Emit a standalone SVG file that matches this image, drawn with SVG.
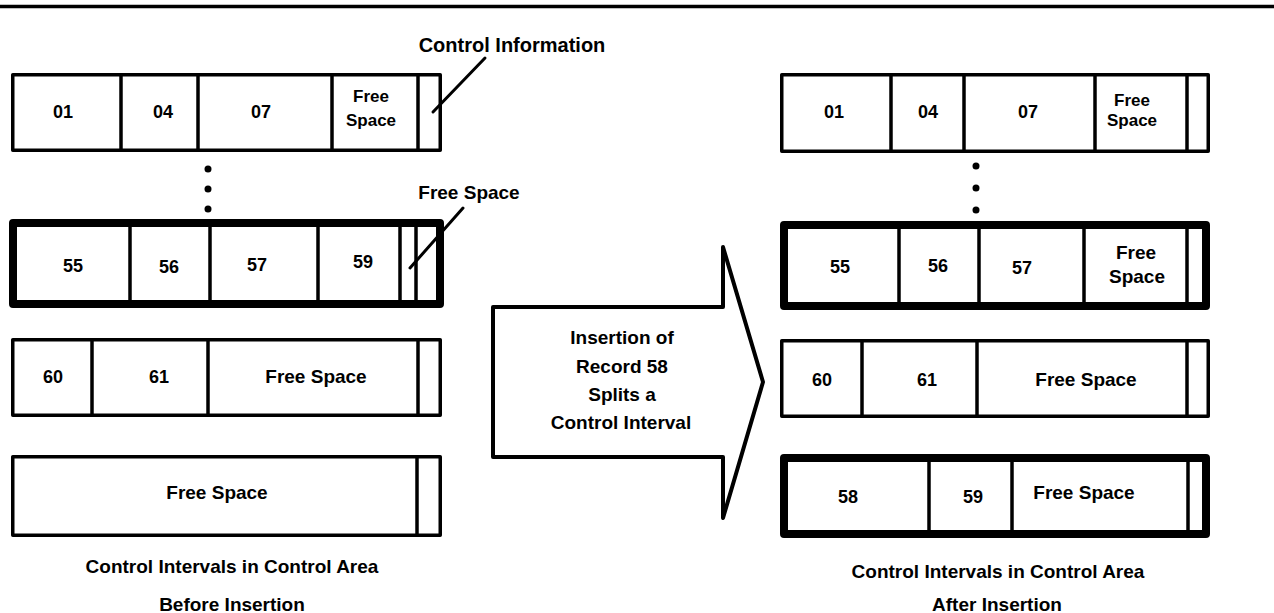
<svg xmlns="http://www.w3.org/2000/svg" width="1274" height="613" viewBox="0 0 1274 613">
<style>
  .box { fill: #fff; stroke: #000; stroke-width: 3.5; stroke-linejoin: round; }
  .thick { fill: #fff; stroke: #000; stroke-width: 8; stroke-linejoin: round; }
  .div { stroke: #000; stroke-width: 3.5; }
  .t { font-family: "Liberation Sans", Arial, Helvetica, sans-serif; font-weight: bold; font-size: 19px; fill: #000; text-anchor: middle; }
  .n { font-size: 18px; }
  .ptr { stroke: #000; stroke-width: 3; stroke-linecap: round; fill: none; }
  .dot { fill: #000; }
</style>
<rect x="0" y="0" width="1274" height="613" fill="#fff"/>
<line x1="0" y1="6.5" x2="1274" y2="6.5" stroke="#000" stroke-width="3.5"/>

<!-- Left: before insertion -->
<g id="before-ci1">
  <rect class="box" x="12.75" y="74.75" width="427.5" height="75.5"/>
  <line class="div" x1="121" y1="74.75" x2="121" y2="150.25"/>
  <line class="div" x1="198" y1="74.75" x2="198" y2="150.25"/>
  <line class="div" x1="332" y1="74.75" x2="332" y2="150.25"/>
  <line class="div" x1="418" y1="74.75" x2="418" y2="150.25"/>
  <text class="t n" x="63" y="118">01</text>
  <text class="t n" x="163" y="118">04</text>
  <text class="t n" x="261" y="118">07</text>
  <text class="t" x="371" y="102" style="font-size:17px">Free</text>
  <text class="t" x="371" y="126" style="font-size:17px">Space</text>
</g>
<g id="before-dots">
  <circle class="dot" cx="208" cy="169" r="3.5"/>
  <circle class="dot" cx="208" cy="189" r="3.5"/>
  <circle class="dot" cx="208" cy="209" r="3.5"/>
</g>
<g id="before-ci2">
  <rect class="thick" x="13" y="223" width="427" height="81"/>
  <line class="div" x1="130" y1="223" x2="130" y2="304"/>
  <line class="div" x1="210" y1="223" x2="210" y2="304"/>
  <line class="div" x1="318" y1="223" x2="318" y2="304"/>
  <line class="div" x1="400" y1="223" x2="400" y2="304"/>
  <line class="div" x1="416" y1="223" x2="416" y2="304"/>
  <text class="t n" x="73" y="272">55</text>
  <text class="t n" x="169" y="273">56</text>
  <text class="t n" x="257" y="271">57</text>
  <text class="t n" x="363" y="268">59</text>
</g>
<g id="before-ci3">
  <rect class="box" x="12.75" y="339.75" width="427.5" height="75.5"/>
  <line class="div" x1="92" y1="339.75" x2="92" y2="415.25"/>
  <line class="div" x1="208" y1="339.75" x2="208" y2="415.25"/>
  <line class="div" x1="418" y1="339.75" x2="418" y2="415.25"/>
  <text class="t n" x="53" y="383">60</text>
  <text class="t n" x="159" y="383">61</text>
  <text class="t" x="316" y="383">Free Space</text>
</g>
<g id="before-ci4">
  <rect class="box" x="12.75" y="456.75" width="427.5" height="78.5"/>
  <line class="div" x1="417" y1="456.75" x2="417" y2="535.25"/>
  <text class="t" x="217" y="499">Free Space</text>
</g>
<g id="label-control-info">
  <text class="t" x="512" y="52" style="font-size:20px">Control Information</text>
</g>
<g id="label-free-space">
  <text class="t" x="469" y="199">Free Space</text>
</g>
<g id="caption-before">
  <text class="t" x="232" y="573">Control Intervals in Control Area</text>
  <text class="t" x="232" y="611">Before Insertion</text>
</g>

<!-- Arrow -->
<g id="arrow">
  <polygon points="493,307 723,307 723,247 763,382 723,518 723,457 493,457" fill="#fff" stroke="#000" stroke-width="4" stroke-linejoin="round"/>
  <text class="t" x="622" y="344">Insertion of</text>
  <text class="t" x="622" y="373">Record 58</text>
  <text class="t" x="622" y="401">Splits a</text>
  <text class="t" x="621" y="429">Control Interval</text>
</g>

<!-- Right: after insertion -->
<g id="after-ci1">
  <rect class="box" x="781.75" y="74.75" width="426.5" height="76.5"/>
  <line class="div" x1="891" y1="74.75" x2="891" y2="151.25"/>
  <line class="div" x1="964" y1="74.75" x2="964" y2="151.25"/>
  <line class="div" x1="1095" y1="74.75" x2="1095" y2="151.25"/>
  <line class="div" x1="1187" y1="74.75" x2="1187" y2="151.25"/>
  <text class="t n" x="834" y="118">01</text>
  <text class="t n" x="928" y="118">04</text>
  <text class="t n" x="1028" y="118">07</text>
  <text class="t" x="1132" y="106" style="font-size:17px">Free</text>
  <text class="t" x="1132" y="126" style="font-size:17px">Space</text>
</g>
<g id="after-dots">
  <circle class="dot" cx="976" cy="166" r="3.5"/>
  <circle class="dot" cx="976" cy="188" r="3.5"/>
  <circle class="dot" cx="976" cy="210" r="3.5"/>
</g>
<g id="after-ci2">
  <rect class="thick" x="784" y="225" width="422" height="81"/>
  <line class="div" x1="899" y1="225" x2="899" y2="306"/>
  <line class="div" x1="979" y1="225" x2="979" y2="306"/>
  <line class="div" x1="1084" y1="225" x2="1084" y2="306"/>
  <line class="div" x1="1187" y1="225" x2="1187" y2="306"/>
  <text class="t n" x="840" y="273">55</text>
  <text class="t n" x="938" y="272">56</text>
  <text class="t n" x="1022" y="274">57</text>
  <text class="t" x="1136" y="259">Free</text>
  <text class="t" x="1137" y="283">Space</text>
</g>
<g id="after-ci3">
  <rect class="box" x="781.75" y="340.75" width="426.5" height="75.5"/>
  <line class="div" x1="862" y1="340.75" x2="862" y2="416.25"/>
  <line class="div" x1="977" y1="340.75" x2="977" y2="416.25"/>
  <line class="div" x1="1187" y1="340.75" x2="1187" y2="416.25"/>
  <text class="t n" x="822" y="386">60</text>
  <text class="t n" x="927" y="386">61</text>
  <text class="t" x="1086" y="386">Free Space</text>
</g>
<g id="after-ci4">
  <rect class="thick" x="784" y="458" width="422" height="76"/>
  <line class="div" x1="929" y1="458" x2="929" y2="534"/>
  <line class="div" x1="1012" y1="458" x2="1012" y2="534"/>
  <line class="div" x1="1188" y1="458" x2="1188" y2="534"/>
  <text class="t n" x="848" y="503">58</text>
  <text class="t n" x="973" y="503">59</text>
  <text class="t" x="1084" y="499">Free Space</text>
</g>
<g id="caption-after">
  <text class="t" x="998" y="578">Control Intervals in Control Area</text>
  <text class="t" x="997" y="611">After Insertion</text>
</g>

<!-- Connectors -->
<g id="connectors">
  <line class="ptr" x1="433" y1="112" x2="485" y2="58"/>
  <line class="ptr" x1="410" y1="268" x2="463" y2="208"/>
</g>
</svg>
